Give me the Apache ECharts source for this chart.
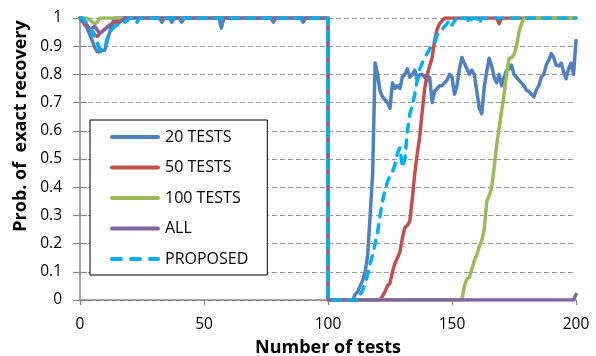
<!DOCTYPE html>
<html>
<head>
<meta charset="utf-8">
<script src="https://cdn.jsdelivr.net/npm/echarts@6/dist/echarts.min.js"></script>
<style>
html,body{margin:0;padding:0;background:#fff;}
#chart{width:596px;height:356px;}
</style>
</head>
<body>
<div id="chart"></div>
<script>
// ---- data (x = number of tests, y = probability) ----
var seriesNames = ['20 TESTS', '50 TESTS', '100 TESTS', 'ALL', 'PROPOSED'];
var xTickValues = [0, 50, 100, 150, 200];

var tests20 = [[0,1],[1,1],[2,0.98],[4,0.94],[6,0.895],[7,0.88],[8,0.88],[9,0.885],[10,0.886],[11,0.92],[12,0.95],[13,0.98],[14,1],
  [32,1],[33,0.985],[34,1],[36,1],[37,0.985],[38,1],[40,1],[41,0.985],[42,1],[56,1],[57,0.964],[58,1],
  [77,1],[78,0.985],[79,1],[89,1],[90,0.985],[91,1],[100,1],[100,0],[110,0],
  [111,0.02],[112,0.03],[113,0.05],[114,0.07],[115,0.1],[116,0.16],[117,0.3],[118,0.45],[119,0.84],
  [120,0.8],[121,0.74],[122,0.72],[123,0.71],[124,0.7],[125,0.68],[126,0.77],[127,0.75],[128,0.76],[129,0.75],
  [130,0.79],[131,0.8],[132,0.82],[133,0.79],[134,0.8],[135,0.815],[136,0.78],[137,0.8],[138,0.8],[139,0.79],
  [140,0.78],[141,0.79],[142,0.7],[143,0.74],[144,0.75],[145,0.76],[146,0.76],[147,0.77],[148,0.78],[149,0.8],
  [150,0.79],[151,0.73],[152,0.76],[153,0.82],[154,0.86],[155,0.84],[156,0.82],[157,0.8],[158,0.815],[159,0.8],
  [160,0.74],[161,0.68],[162,0.66],[163,0.755],[164,0.81],[165,0.857],[166,0.83],[167,0.79],[168,0.77],[169,0.8],
  [170,0.76],[171,0.79],[172,0.815],[173,0.82],[174,0.833],[175,0.8],[176,0.79],[177,0.78],[178,0.77],[179,0.76],
  [180,0.744],[181,0.74],[182,0.73],[183,0.72],[184,0.745],[185,0.76],[186,0.79],[187,0.8],[188,0.833],[189,0.85],
  [190,0.874],[191,0.86],[192,0.833],[193,0.83],[194,0.84],[195,0.81],[196,0.785],[197,0.82],[198,0.84],[199,0.8],[200,0.92]];

var tests50 = [[0,1],[2,0.985],[4,0.96],[6,0.94],[7,0.935],[8,0.945],[10,0.96],[12,0.975],[14,0.985],[16,0.99],[17,1],
  [100,1],[100,0],[121,0],[122,0.015],[123,0.03],[124,0.05],[125,0.06],[126,0.1],[127,0.13],[128,0.15],[129,0.17],
  [130,0.22],[131,0.257],[132,0.265],[133,0.28],[134,0.36],[135,0.45],[136,0.52],[137,0.58],[138,0.67],[139,0.75],
  [140,0.8],[141,0.83],[142,0.86],[143,0.92],[144,0.96],[145,0.98],[146,0.99],[147,1],[168,1],[169,0.98],[170,1],[200,1]];

var tests100 = [[0,1],[3,1],[5,0.985],[6,0.98],[7,0.985],[8,1],[100,1],[100,0],[154,0],
  [155,0.05],[156,0.075],[157,0.08],[158,0.11],[159,0.14],[160,0.16],[161,0.19],[162,0.21],[163,0.25],[164,0.35],
  [165,0.37],[166,0.4],[167,0.47],[168,0.55],[169,0.61],[170,0.67],[171,0.73],[172,0.8],[173,0.857],[174,0.86],
  [175,0.87],[176,0.9],[177,0.95],[178,0.98],[179,1],[200,1]];

var testsAll = [[0,1],[2,0.975],[4,0.96],[6,0.97],[8,0.945],[10,0.96],[12,0.975],[14,0.97],[16,0.985],[18,1],
  [100,1],[100,0],[199,0],[200,0.02]];

var proposed = [[0,1],[1,1],[3,0.98],[5,0.95],[7,0.91],[8,0.89],[9,0.886],[10,0.89],[11,0.928],[12,0.95],[14,0.97],
  [15,0.975],[17,0.98],[19,0.99],[20,1],[22,1],[23,0.985],[24,1],[100,1],[100,0],[112,0],
  [113,0.02],[114,0.035],[115,0.06],[116,0.09],[117,0.13],[118,0.16],[119,0.2],[120,0.24],[121,0.3],[122,0.35],
  [123,0.39],[124,0.42],[125,0.44],[126,0.455],[127,0.48],[128,0.52],[129,0.54],[130,0.47],[131,0.5],[132,0.6],
  [133,0.66],[134,0.69],[135,0.73],[136,0.78],[137,0.82],[138,0.84],[139,0.86],[140,0.875],[141,0.89],[142,0.905],
  [143,0.91],[144,0.94],[145,0.95],[146,0.96],[147,0.97],[148,0.98],[149,0.993],[150,0.975],[151,0.99],[152,1],
  [153,0.99],[154,1],[156,1],[157,0.98],[158,1],[160,1],[161,0.98],[162,1],[200,1]];

var colors = ['#4F81BD', '#C0504D', '#9BBB59', '#8064A2', '#00B0F0'];
var allData = [tests20, tests50, tests100, testsAll, proposed];

var FONT = 'Open Sans';
var SOLID_ICON = 'path://M2,0h46a2,2 0 0 1 0,4h-46a2,2 0 0 1 0,-4z';
var DASH_ICON = 'path://M2,0h9a2,2 0 0 1 0,4h-9a2,2 0 0 1 0,-4z M21,0h9a2,2 0 0 1 0,4h-9a2,2 0 0 1 0,-4z M40,0h8a2,2 0 0 1 0,4h-8a2,2 0 0 1 0,-4z';

var chart = echarts.init(document.getElementById('chart'), null, {renderer: 'canvas'});

var series = seriesNames.map(function (name, i) {
  return {
    name: name,
    type: 'line',
    data: allData[i],
    showSymbol: false,
    symbol: 'none',
    smooth: false,
    lineStyle: {
      color: colors[i],
      width: 3.5,
      type: i === 4 ? [8, 8] : 'solid',
      cap: 'round',
      join: 'round'
    },
    itemStyle: {color: colors[i]},
    z: 2 + i
  };
});

chart.setOption({
  animation: false,
  backgroundColor: '#fff',
  textStyle: {fontFamily: FONT, color: '#000'},
  grid: {left: 80, right: 20, top: 18, bottom: 56, containLabel: false, outerBoundsMode: 'none'},
  legend: {
    data: seriesNames.map(function (n, i) {
      return {name: n, icon: i === 4 ? DASH_ICON : SOLID_ICON, itemStyle: {color: colors[i], borderWidth: 0}};
    }),
    orient: 'vertical',
    left: 90,
    top: 120,
    padding: [9, 19, 8, 20],
    itemWidth: 50,
    itemHeight: 14,
    itemGap: 14.5,
    symbolKeepAspect: true,
    backgroundColor: '#fff',
    borderColor: '#000',
    borderWidth: 1,
    textStyle: {fontFamily: FONT, fontSize: 16, color: '#000'},
    selectedMode: false
  },
  xAxis: [{
    type: 'value',
    min: 0,
    max: 200,
    interval: 50,
    name: 'Number of tests',
    nameLocation: 'middle',
    nameGap: 39,
    nameTextStyle: {fontFamily: FONT, fontSize: 18, fontWeight: 'bold', color: '#000'},
    axisLine: {show: true, onZero: false, lineStyle: {color: '#878787', width: 1.5}},
    axisTick: {show: true, length: 5, lineStyle: {color: '#878787', width: 1.2}},
    axisLabel: {fontFamily: FONT, fontSize: 15.5, color: '#000', margin: 17,
      formatter: function (v) { return xTickValues.indexOf(v) >= 0 ? String(v) : ''; }},
    splitLine: {show: false}
  }],
  yAxis: [{
    type: 'value',
    min: 0,
    max: 1,
    interval: 0.1,
    axisLine: {show: true, lineStyle: {color: '#878787', width: 1.5}},
    axisTick: {show: true, length: 7, lineStyle: {color: '#878787', width: 1.2}},
    axisLabel: {fontFamily: FONT, fontSize: 15.5, color: '#000', margin: 18,
      formatter: function (v) { return String(Math.round(v * 10) / 10); }},
    splitLine: {show: true, lineStyle: {color: '#9a9a9a', width: 1, type: [5, 3]}}
  }, {
    type: 'value',
    min: 0,
    max: 1,
    interval: 0.1,
    position: 'left',
    axisLine: {show: false},
    axisTick: {show: true, inside: true, length: 7, lineStyle: {color: '#878787', width: 1.2}},
    axisLabel: {show: false},
    splitLine: {show: false}
  }],
  graphic: [{
    type: 'text',
    x: 21,
    y: 126,
    rotation: Math.PI / 2,
    style: {
      text: 'Prob. of  exact recovery',
      fontFamily: FONT,
      fontSize: 18,
      fontWeight: 'bold',
      fill: '#000',
      align: 'center',
      verticalAlign: 'middle'
    }
  }],
  series: series
});
</script>
</body>
</html>
